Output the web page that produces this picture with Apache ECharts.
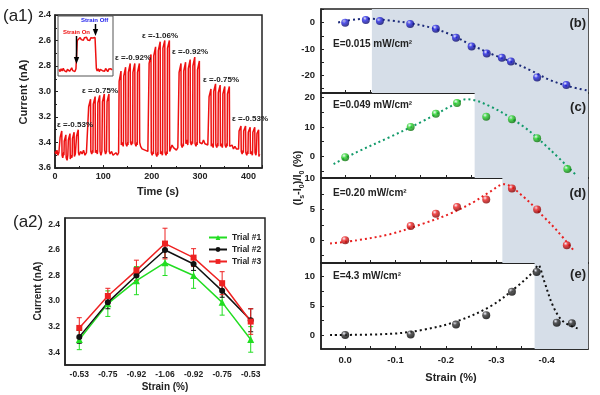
<!DOCTYPE html>
<html><head><meta charset="utf-8">
<script src="https://cdn.jsdelivr.net/npm/echarts@6/dist/echarts.min.js"></script>
<style>html,body{margin:0;padding:0;background:#fff}#c{width:600px;height:395px}</style>
</head><body><div id="c"></div><script>
// ---------- (a1) current vs time trace ----------
const a1Trace = [
[0,3.47],[2,3.49],[4,3.46],[6,3.50],[8,3.48],
[10,3.49],[10.6,3.36],[14,3.31],[14.6,3.50],[16,3.52],[18,3.48],
[18.5,3.50],[19.1,3.39],[22.5,3.34],[23.1,3.52],[25,3.54],[26.5,3.50],
[27,3.51],[27.6,3.38],[31,3.33],[31.6,3.53],[33,3.50],[35,3.52],
[35.5,3.50],[36.1,3.37],[39.5,3.32],[40.1,3.51],[42,3.49],[43.5,3.50],
[44,3.49],[44.6,3.35],[48,3.30],[48.6,3.48],
[50,3.50],[53,3.47],[56,3.49],[59,3.46],[62,3.50],[65,3.48],[68,3.49],
[69,3.48],[69.6,3.12],[73.5,3.06],[74.1,3.47],[76,3.49],[78,3.46],
[78.5,3.48],[79.1,3.10],[83,3.04],[83.6,3.48],[85.5,3.46],[87.5,3.49],
[88,3.47],[88.6,3.09],[92.5,3.03],[93.1,3.47],[95,3.50],[97,3.47],
[97.5,3.48],[98.1,3.08],[102,3.02],[102.6,3.46],[104.5,3.49],[106.5,3.47],
[107,3.48],[107.6,3.08],[111.5,3.02],[112.1,3.47],
[114,3.49],[117,3.47],[120,3.50],[123,3.51],[126,3.48],[129,3.50],[131.5,3.48],
[132,3.47],[132.6,2.92],[136.5,2.84],[137.1,3.42],[139,3.40],[141,3.43],
[141.5,3.41],[142.1,2.88],[146,2.81],[146.6,3.41],[148.5,3.43],[150.5,3.40],
[151,3.42],[151.6,2.85],[155.5,2.78],[156.1,3.40],[158,3.42],[160,3.39],
[160.5,3.41],[161.1,2.85],[165,2.78],[165.6,3.41],[167.5,3.43],[169.5,3.40],
[170,3.42],[170.6,2.85],[174.5,2.78],[175.1,3.40],
[177,3.43],[180,3.45],[183,3.44],[186,3.46],[189,3.45],[192,3.47],[193.5,3.46],
[194,3.46],[194.6,2.78],[198.5,2.71],[199.1,3.48],[201,3.50],[203,3.47],
[203.5,3.49],[204.1,2.72],[208,2.65],[208.6,3.49],[210.5,3.51],[212.5,3.48],
[213,3.50],[213.6,2.68],[217.5,2.61],[218.1,3.49],[220,3.47],[222,3.50],
[222.5,3.48],[223.1,2.66],[227,2.60],[227.6,3.48],[229.5,3.50],[231.5,3.47],
[232,3.49],[232.6,2.66],[236.5,2.60],[237.1,3.47],
[239,3.45],[242,3.42],[245,3.44],[248,3.43],[251,3.46],[254,3.44],[255.5,3.45],
[256,3.44],[256.6,2.85],[260.5,2.78],[261.1,3.42],[263,3.44],[265,3.41],
[265.5,3.43],[266.1,2.84],[270,2.77],[270.6,3.41],[272.5,3.38],[274.5,3.42],
[275,3.40],[275.6,2.82],[279.5,2.75],[280.1,3.40],[282,3.42],[284,3.39],
[284.5,3.41],[285.1,2.80],[289,2.73],[289.6,3.41],[291.5,3.43],[293.5,3.40],
[294,3.42],[294.6,2.83],[298.5,2.76],[299.1,3.40],
[301,3.39],[304,3.41],[307,3.38],[310,3.41],[313,3.40],[316,3.42],[317.5,3.41],
[318,3.42],[318.6,3.04],[322.5,2.98],[323.1,3.43],[325,3.41],[327,3.44],
[327.5,3.42],[328.1,3.00],[332,2.94],[332.6,3.42],[334.5,3.44],[336.5,3.41],
[337,3.43],[337.6,3.01],[341.5,2.95],[342.1,3.43],[344,3.41],[346,3.44],
[346.5,3.42],[347.1,3.02],[351,2.96],[351.6,3.42],[353.5,3.44],[355.5,3.41],
[356,3.43],[356.6,3.02],[360.5,2.96],[361.1,3.43],
[363,3.44],[366,3.42],[369,3.45],[372,3.43],[375,3.45],[378,3.44],[379.5,3.45],
[380,3.46],[380.6,3.31],[384.5,3.27],[385.1,3.47],[387,3.49],[389,3.46],
[389.5,3.48],[390.1,3.31],[394,3.27],[394.6,3.48],[396.5,3.50],[398.5,3.47],
[399,3.49],[399.6,3.32],[403.5,3.28],[404.1,3.49],[406,3.47],[408,3.50],
[408.5,3.48],[409.1,3.32],[413,3.28],[413.6,3.48],[415.5,3.50],[416.5,3.47],
[417,3.48],[417.6,3.33],[421,3.30],[421.6,3.51],[423,3.49]
];
const a1YTicks = [2.4, 3.6];
const a1XRange = [0, 428];
// inset trace (arbitrary units: 0 = off level, 1 = on level)
const insetTrace = [
[0,0.02],[2,-0.05],[4,0.04],[6,-0.03],[8,0.06],[10,-0.02],[12,0.03],[14,-0.06],[16,0.02],[18,0.05],
[20,-0.04],[22,0.01],[24,0.07],[26,-0.02],[28,0.03],[30,-0.05],[32,0.04],[33.5,0.08],
[34.5,0.95],[36,1.0],[38,0.93],[40,1.05],[42,0.98],[44,1.03],[46,0.96],[48,1.04],[50,0.99],
[52,1.06],[54,0.97],[56,1.02],[58,0.95],[60,1.04],[62,0.98],[64,1.03],[66,0.97],[68,1.05],[69.5,1.0],
[70.5,0.05],[72,-0.03],[74,0.04],[76,-0.05],[78,0.02],[80,0.06],[82,-0.02],[84,0.03],[86,-0.04],
[88,0.05],[90,0.01],[92,-0.05],[94,0.03],[96,-0.02],[98,0.04],[100,0.0]
];
const a1Notes = ['ε =-0.53%','ε =-0.75%','ε =-0.92%','ε =-1.06%','ε =-0.92%','ε =-0.75%','ε =-0.53%'];

// ---------- (a2) ----------
const a2Categories = ['-0.53','-0.75','-0.92','-1.06','-0.92','-0.75','-0.53'];
const trial1 = [3.30,3.02,2.84,2.70,2.80,3.01,3.30];
const trial1Err = [0.08,0.10,0.11,0.10,0.10,0.10,0.10];
const trial2 = [3.28,3.01,2.80,2.60,2.71,2.92,3.15];
const trial2Err = [0.05,0.05,0.06,0.06,0.05,0.05,0.09];
const trial3 = [3.21,2.96,2.76,2.55,2.66,2.86,3.16];
const trial3Err = [0.08,0.06,0.08,0.12,0.07,0.09,0.10];
const a2YLabels = [2.4,2.6,2.8,3.0,3.2,3.4];

// ---------- (b)-(e) ----------
const bStrain = [0,-0.041,-0.069,-0.129,-0.18,-0.22,-0.251,-0.281,-0.311,-0.329,-0.381,-0.439];
const bValue  = [0,1.0,0.6,-0.5,-2.3,-5.7,-9.0,-11.7,-13.3,-14.7,-20.8,-23.7];
const bFit = [[0.014,0.1],[-0.023,1.3],[-0.05,1.5],[-0.09,0.8],[-0.129,-0.2],[-0.169,-1.8],[-0.208,-4.4],[-0.248,-8.2],[-0.288,-11.7],[-0.328,-14.7],[-0.367,-18.0],[-0.407,-21.8],[-0.447,-24.3],[-0.482,-25.8]];
const cStrain = [0,-0.13,-0.18,-0.222,-0.28,-0.331,-0.381,-0.441];
const cValue  = [-0.2,10.0,14.4,18.0,13.4,12.6,6.2,-4.2];
const cFit = [[0.023,-2.5],[-0.023,1.5],[-0.089,6.6],[-0.155,12.0],[-0.208,16.8],[-0.241,19.3],[-0.288,16.9],[-0.354,10.1],[-0.407,2.3],[-0.46,-6.5]];
const dStrain = [0,-0.13,-0.18,-0.222,-0.28,-0.331,-0.381,-0.44];
const dValue  = [0,2.3,4.3,5.4,6.6,8.4,5.0,-0.8];
const dFit = [[0.03,-0.54],[-0.023,0],[-0.089,0.98],[-0.155,2.7],[-0.208,4.3],[-0.255,6.2],[-0.288,7.9],[-0.315,9.1],[-0.354,7.05],[-0.394,3.8],[-0.42,1.6],[-0.453,-1.6]];
const eStrain = [0,-0.13,-0.22,-0.28,-0.331,-0.38,-0.42,-0.45];
const eValue  = [0,0.1,1.8,3.4,7.4,10.8,2.1,2.0];
const eFit = [[0.03,0],[-0.09,0.2],[-0.155,0.9],[-0.22,2.3],[-0.288,4.9],[-0.341,8.3],[-0.374,10.9],[-0.383,12.0],[-0.394,9.5],[-0.413,4.9],[-0.433,2.3],[-0.466,1.0]];
const shadeStart = [-0.053,-0.257,-0.312,-0.376];
const panelLabels = ['(b)','(c)','(d)','(e)'];
const intensities = ['E=0.015 mW/cm²','E=0.049 mW/cm²','E=0.20 mW/cm²','E=4.3 mW/cm²'];
const panelYRange = [[-26.7,5.2],[-7.2,21.4],[-3.7,10.1],[-2.4,12.35]];
const panelYLabels = [[-20,-10,0],[0,10,20],[0,5,10],[0,5,10]];
const panelYTicks = [[-25,-20,-15,-10,-5,0,5],[-5,0,5,10,15,20],[-2.5,0,2.5,5,7.5,10],[0,2.5,5,7.5,10]];
const strainLabels = [0,-0.1,-0.2,-0.3,-0.4];
const strainTicks = [0,-0.05,-0.1,-0.15,-0.2,-0.25,-0.3,-0.35,-0.4,-0.45];

const FONT = 'Liberation Sans, Arial, sans-serif';
const chart = echarts.init(document.getElementById('c'), null, {renderer:'canvas'});

const frame = {show:true, borderColor:'#222', borderWidth:1.5, backgroundColor:'transparent'};
const grids = [
  Object.assign({left:55, top:15, width:207, height:153}, frame),          // 0 a1
  {left:59, top:17, width:53, height:58, show:false},                     // 1 inset
  Object.assign({left:65, top:218, width:200, height:147}, frame),        // 2 a2
  Object.assign({left:321, top:9, width:267, height:84}, frame),          // 3 b
  Object.assign({left:321, top:93, width:267, height:85}, frame),         // 4 c
  Object.assign({left:321, top:178, width:267, height:85}, frame),        // 5 d
  Object.assign({left:321, top:263, width:267, height:86}, frame)         // 6 e
];
const axLine = {show:true, onZero:false, lineStyle:{color:'#222', width:1.5}};
const lbl = (size) => ({fontFamily:FONT, fontWeight:'bold', fontSize:size, color:'#222'});

const xAxes = [
  {gridIndex:0, type:'value', min:a1XRange[0], max:a1XRange[1], interval:100,
   axisLine:axLine, axisTick:{inside:true, length:3, lineStyle:{color:'#222'}},
   minorTick:{show:true, splitNumber:2, length:2, lineStyle:{color:'#222'}},
   splitLine:{show:false}, axisLabel:Object.assign({margin:4, showMaxLabel:false}, lbl(9))},
  {gridIndex:1, type:'value', min:0, max:100, show:false},
  {gridIndex:2, type:'category', data:a2Categories, boundaryGap:true,
   axisLine:axLine, axisTick:{inside:true, length:3, alignWithLabel:true, lineStyle:{color:'#222'}},
   axisLabel:Object.assign({margin:5, interval:0}, lbl(8.5))}
];
const yAxes = [
  {gridIndex:0, type:'value', inverse:true, min:a1YTicks[0], max:a1YTicks[1], interval:0.2,
   axisLine:axLine, axisTick:{inside:true, length:3, lineStyle:{color:'#222'}},
   minorTick:{show:true, splitNumber:2, length:2, lineStyle:{color:'#222'}},
   splitLine:{show:false}, axisLabel:Object.assign({margin:4, formatter:v=>v.toFixed(1)}, lbl(9))},
  {gridIndex:1, type:'value', min:-0.16, max:1.71, show:false},
  {gridIndex:2, type:'value', inverse:true, min:2.35, max:3.5,
   axisLine:axLine, splitLine:{show:false},
   axisTick:{inside:true, length:3, customValues:[2.4,2.5,2.6,2.7,2.8,2.9,3.0,3.1,3.2,3.3,3.4], lineStyle:{color:'#222'}},
   axisLabel:Object.assign({margin:5, customValues:a2YLabels, formatter:v=>v.toFixed(1)}, lbl(8.5))}
];
for (let p = 0; p < 4; p++) {
  const gi = 3 + p;
  xAxes.push({gridIndex:gi, type:'value', inverse:true, min:-0.482, max:0.048, position:'bottom',
    axisLine:axLine, splitLine:{show:false},
    axisTick:{inside:true, length:3, customValues:strainTicks, lineStyle:{color:'#222'}},
    axisLabel:Object.assign({show:p===3, margin:6, customValues:strainLabels, formatter:v=>v.toFixed(1)}, lbl(9.5))});
  yAxes.push({gridIndex:gi, type:'value', min:panelYRange[p][0], max:panelYRange[p][1], position:'left',
    axisLine:axLine, splitLine:{show:false},
    axisTick:{inside:true, length:3, customValues:panelYTicks[p], lineStyle:{color:'#222'}},
    axisLabel:Object.assign({margin:6, customValues:panelYLabels[p]}, lbl(9.5))});
}

function errSeries(vals, errs, color) {
  return {type:'custom', xAxisIndex:2, yAxisIndex:2, z:1, silent:true,
    data: vals.map((v,i)=>[i, v-errs[i], v+errs[i]]),
    encode:{x:0, y:[1,2]},
    renderItem(params, api){
      const x = api.value(0);
      const a = api.coord([x, api.value(1)]);
      const b = api.coord([x, api.value(2)]);
      const w = 2.5;
      const st = {stroke:color, lineWidth:1};
      return {type:'group', children:[
        {type:'line', shape:{x1:a[0],y1:a[1],x2:b[0],y2:b[1]}, style:st},
        {type:'line', shape:{x1:a[0]-w,y1:a[1],x2:a[0]+w,y2:a[1]}, style:st},
        {type:'line', shape:{x1:b[0]-w,y1:b[1],x2:b[0]+w,y2:b[1]}, style:st}
      ]};
    }};
}

function sphere(base, dark) {
  return {type:'radial', x:0.35, y:0.3, r:0.75, colorStops:[
    {offset:0, color:'#f4f4ff'}, {offset:0.35, color:base}, {offset:1, color:dark}]};
}
const panelColors = [
  {pt:sphere('#2a2ae8','#0a0a60'), line:'#1c2a7a'},
  {pt:sphere('#2ed82e','#0a6a0a'), line:'#129a6a'},
  {pt:sphere('#f02020','#7a0000'), line:'#e82020'},
  {pt:sphere('#333333','#000000'), line:'#111111'}
];
const strains = [bStrain,cStrain,dStrain,eStrain];
const values = [bValue,cValue,dValue,eValue];
const fits = [bFit,cFit,dFit,eFit];

const series = [
  {type:'line', xAxisIndex:0, yAxisIndex:0, data:a1Trace, showSymbol:false, symbol:'none',
   lineStyle:{color:'#ee1111', width:1.5}, animation:false},
  {type:'line', xAxisIndex:1, yAxisIndex:1, data:insetTrace, symbol:'none',
   lineStyle:{color:'#ee1111', width:1.5}},
  errSeries(trial1, trial1Err, '#22dd22'),
  errSeries(trial2, trial2Err, '#111111'),
  errSeries(trial3, trial3Err, '#ee2222'),
  {name:'Trial #1', type:'line', xAxisIndex:2, yAxisIndex:2, data:trial1, symbol:'triangle', symbolSize:7,
   itemStyle:{color:'#22dd22'}, lineStyle:{color:'#22dd22', width:1.5}, z:3},
  {name:'Trial #2', type:'line', xAxisIndex:2, yAxisIndex:2, data:trial2, symbol:'circle', symbolSize:6,
   itemStyle:{color:'#111111'}, lineStyle:{color:'#111111', width:1.5}, z:3},
  {name:'Trial #3', type:'line', xAxisIndex:2, yAxisIndex:2, data:trial3, symbol:'rect', symbolSize:6,
   itemStyle:{color:'#ee2222'}, lineStyle:{color:'#ee2222', width:1.5}, z:3}
];
for (let p = 0; p < 4; p++) {
  const gi = 3 + p;
  series.push({type:'line', xAxisIndex:gi, yAxisIndex:gi, data:[], z:0, silent:true,
    markArea:{silent:true, itemStyle:{color:'#d6dee8'}, data:[[{xAxis:shadeStart[p]},{xAxis:-0.482}]]}});
  series.push({type:'line', xAxisIndex:gi, yAxisIndex:gi, data:fits[p], symbol:'none', smooth:0.35, z:2,
    lineStyle:{color:panelColors[p].line, width:2, type:[2,3]}});
  series.push({type:'scatter', xAxisIndex:gi, yAxisIndex:gi, z:3, symbolSize:8,
    data:strains[p].map((s,i)=>[s, values[p][i]]), itemStyle:{color:panelColors[p].pt}});
}

const txt = (x, y, text, font, fill, align, extra) => Object.assign({type:'text', x, y, z:50,
  style:{text, font, fill:fill||'#222', textAlign:align||'left', textVerticalAlign:'middle'}}, extra||{});
const B = (s) => 'bold ' + s + 'px ' + FONT;
const noteX = [57, 82, 115, 142, 172, 203, 232];
const noteY = [125, 91, 58, 36, 52, 80, 119];
const graphic = [
  txt(3, 16, '(a1)', '17px ' + FONT, '#222'),
  txt(13, 222, '(a2)', '17px ' + FONT, '#222'),
  txt(24, 92, 'Current (nA)', B(11), '#222', 'center', {rotation:Math.PI/2}),
  txt(158, 192, 'Time (s)', B(11), '#222', 'center'),
  txt(38, 291, 'Current (nA)', B(10), '#222', 'center', {rotation:Math.PI/2}),
  txt(165, 387, 'Strain (%)', B(10), '#222', 'center'),
  txt(451, 378, 'Strain (%)', B(11), '#222', 'center'),
  {type:'rect', shape:{x:58, y:16, width:55, height:60}, z:40, style:{fill:'none', stroke:'#555', lineWidth:1}},
  txt(63, 32, 'Strain On', B(6), '#ee1111'),
  txt(81, 20, 'Strain Off', B(6), '#2222ee'),
  {type:'line', z:45, shape:{x1:76.5, y1:36, x2:76.5, y2:58}, style:{stroke:'#000', lineWidth:1.5}},
  {type:'polygon', z:45, shape:{points:[[73.8,57],[79.2,57],[76.5,64]]}, style:{fill:'#000'}},
  {type:'line', z:45, shape:{x1:95.5, y1:24, x2:95.5, y2:30}, style:{stroke:'#000', lineWidth:1.5}},
  {type:'polygon', z:45, shape:{points:[[92.8,29],[98.2,29],[95.5,36]]}, style:{fill:'#000'}},
  {type:'text', x:298, y:178, z:50, rotation:Math.PI/2, style:{
    text:'{m|(I}{s|s}{m|-I}{s|0}{m|)/I}{s|0}{m| (%)}', textAlign:'center', textVerticalAlign:'middle',
    rich:{m:{font:B(11), fill:'#222', lineHeight:16}, s:{font:B(7), fill:'#222', verticalAlign:'bottom', lineHeight:16}}}}
];
for (let i = 0; i < a1Notes.length; i++) graphic.push(txt(noteX[i], noteY[i], a1Notes[i], B(8), '#222'));
const panelLabelY = [23, 107, 193, 274];
const eY = [44, 105, 193, 276];
for (let p = 0; p < 4; p++) {
  graphic.push(txt(586, panelLabelY[p], panelLabels[p], B(13), '#222', 'right'));
  graphic.push(txt(333, eY[p], intensities[p], B(10), '#222'));
}

chart.setOption({
  animation:false,
  grid:grids, xAxis:xAxes, yAxis:yAxes, series,
  legend:{data:['Trial #1','Trial #2','Trial #3'], orient:'vertical', left:203, top:228,
    itemWidth:18, itemHeight:6, itemGap:3, textStyle:{fontFamily:FONT, fontWeight:'bold', fontSize:8.5, color:'#222'}},
  graphic
});
</script></body></html>
